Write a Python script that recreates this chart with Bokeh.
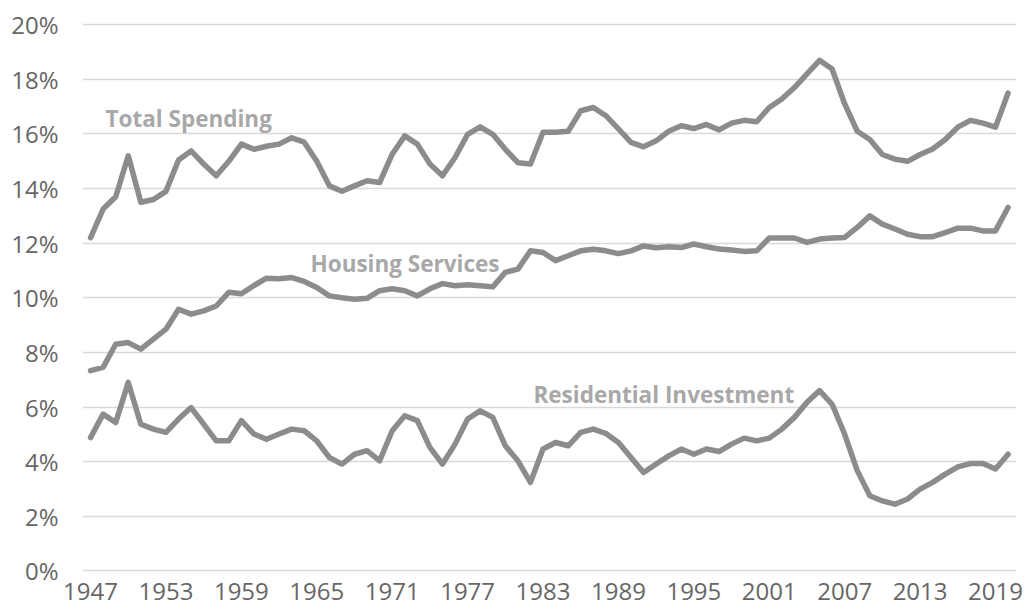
from bokeh.plotting import figure
from bokeh.models import Range1d, FixedTicker, PrintfTickFormatter, ColumnDataSource
from bokeh.core.properties import value
from bokeh.embed import file_html
from bokeh.resources import INLINE

years = list(range(1947, 2021))

total_spending = [
    12.2, 13.25, 13.7, 15.2, 13.5, 13.6, 13.9, 15.05, 15.38, 14.9,
    14.47, 15.0, 15.63, 15.44, 15.55, 15.63, 15.86, 15.7, 15.0, 14.1,
    13.9, 14.1, 14.29, 14.22, 15.26, 15.93, 15.63, 14.9, 14.47, 15.14,
    15.99, 16.26, 15.99, 15.44, 14.95, 14.9, 16.06, 16.06, 16.1, 16.85,
    16.97, 16.67, 16.19, 15.69, 15.53, 15.75, 16.1, 16.3, 16.2, 16.35,
    16.15, 16.4, 16.5, 16.45, 16.97, 17.28, 17.7, 18.2, 18.7, 18.38,
    17.1, 16.1, 15.8, 15.25, 15.08, 15.0, 15.25, 15.45, 15.8, 16.25,
    16.5, 16.4, 16.25, 17.5,
]

housing_services = [
    7.33, 7.45, 8.3, 8.36, 8.12, 8.49, 8.85, 9.58, 9.4, 9.52,
    9.7, 10.2, 10.15, 10.45, 10.72, 10.7, 10.74, 10.6, 10.38, 10.07,
    10.0, 9.95, 9.98, 10.26, 10.33, 10.26, 10.07, 10.33, 10.52, 10.44,
    10.48, 10.44, 10.4, 10.93, 11.05, 11.72, 11.66, 11.36, 11.54, 11.72,
    11.78, 11.72, 11.62, 11.72, 11.9, 11.83, 11.87, 11.84, 11.97, 11.87,
    11.79, 11.75, 11.7, 11.72, 12.19, 12.19, 12.19, 12.03, 12.15, 12.19,
    12.21, 12.58, 13.0, 12.7, 12.52, 12.33, 12.24, 12.24, 12.39, 12.55,
    12.55, 12.45, 12.45, 13.31,
]

residential_investment = [
    4.88, 5.74, 5.43, 6.9, 5.37, 5.19, 5.07, 5.56, 5.98, 5.37,
    4.76, 4.76, 5.5, 5.01, 4.82, 5.01, 5.19, 5.13, 4.76, 4.15,
    3.91, 4.27, 4.4, 4.03, 5.13, 5.68, 5.5, 4.52, 3.91, 4.64,
    5.56, 5.86, 5.62, 4.58, 4.03, 3.24, 4.46, 4.7, 4.58, 5.07,
    5.19, 5.03, 4.7, 4.15, 3.6, 3.91, 4.21, 4.46, 4.27, 4.46,
    4.37, 4.64, 4.86, 4.76, 4.86, 5.19, 5.62, 6.17, 6.6, 6.1,
    5.0, 3.67, 2.75, 2.56, 2.44, 2.63, 2.99, 3.24, 3.54, 3.81,
    3.93, 3.93, 3.73, 4.27,
]

x_ticks = [1947, 1953, 1959, 1965, 1971, 1977, 1983, 1989, 1995, 2001, 2007, 2013, 2019]
y_ticks = [0, 2, 4, 6, 8, 10, 12, 14, 16, 18, 20]

series_labels = ["Total Spending", "Housing Services", "Residential Investment"]

LINE = "#8c8c8c"
LABEL = "#a8a8a8"
TICK = "#666666"
FONT = "Open Sans"

p = figure(
    width=1029, height=614,
    x_range=Range1d(1946.36, 2020.67),
    y_range=Range1d(-0.135, 20.157),
    output_backend="svg", toolbar_location=None,
    min_border_left=82, min_border_right=13, min_border_top=20, min_border_bottom=40,
    background_fill_color="white", border_fill_color="white",
)
p.outline_line_color = None

src = ColumnDataSource(dict(
    year=years, total=total_spending, housing=housing_services, resid=residential_investment,
))
for col in ["total", "housing", "resid"]:
    p.line("year", col, source=src, line_color=LINE, line_width=5.5,
           line_join="round", line_cap="round")

# series labels (annotations)
label_pos = [(1948.19, 16.56), (1964.5, 11.25), (1982.24, 6.45)]
p.text(x=[lp[0] for lp in label_pos], y=[lp[1] for lp in label_pos], text=series_labels,
       text_font=value(FONT), text_font_style="bold", text_font_size="22.5px",
       text_color=LABEL, text_align="left", text_baseline="alphabetic")

# grid
p.xgrid.grid_line_color = None
p.ygrid.ticker = FixedTicker(ticks=y_ticks)
p.ygrid.grid_line_color = "#d9d9d9"
p.ygrid.grid_line_width = 1.5

# axes
for ax in (p.xaxis[0], p.yaxis[0]):
    ax.axis_line_color = None
    ax.major_tick_line_color = None
    ax.minor_tick_line_color = None
    ax.major_tick_out = 0
    ax.major_tick_in = 0
    ax.major_label_text_font = FONT
    ax.major_label_text_font_size = "24px"
    ax.major_label_text_color = TICK

p.xaxis.ticker = FixedTicker(ticks=x_ticks)
p.xaxis.major_label_standoff = 8
p.yaxis.ticker = FixedTicker(ticks=y_ticks)
p.yaxis.formatter = PrintfTickFormatter(format="%d%%")
p.yaxis.major_label_standoff = 24

open("out.html", "w").write(file_html(p, INLINE))
